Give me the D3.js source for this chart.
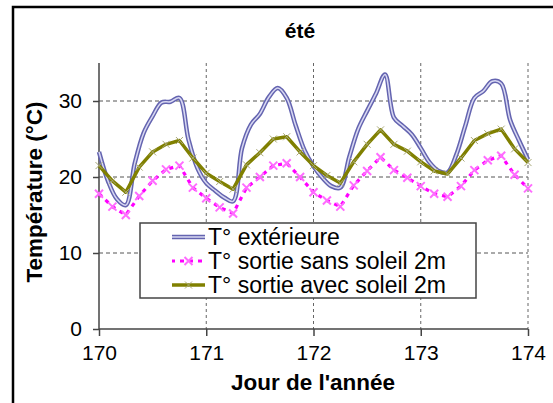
<!DOCTYPE html>
<html>
<head>
<meta charset="utf-8">
<script src="https://cdn.jsdelivr.net/npm/d3@7"></script>
<style>
  html, body { margin: 0; padding: 0; background: #fff; }
  svg { display: block; font-family: "Liberation Sans", Arial, sans-serif; }
</style>
</head>
<body>
<svg id="chart" width="553" height="403"></svg>
<script>
// Outdoor temperature, sampled every 2 hours (day 170 to 174)
const exterieurStep = 1 / 12;
const exterieur = [
  23.3, 19.5, 17.1, 16.3, 21.8, 25.8, 28.0, 29.8, 29.9, 30.4, 25.0, 21.2,
  19.2, 18.2, 17.3, 16.8, 23.8, 26.9, 28.3, 30.5, 31.7, 30.4, 26.8, 23.5,
  21.4, 19.9, 18.8, 18.6, 22.6, 26.3, 28.7, 31.0, 33.5, 27.8, 26.7, 25.6,
  23.8, 21.9, 20.8, 20.6, 23.0, 26.8, 30.4, 31.3, 32.6, 32.3, 27.5, 24.8,
  22.3
];

// Outlet temperatures at 2 m, sampled every 3 hours
const sortieStep = 1 / 8;
const sansSoleil = [
  17.8, 16.1, 15.0, 17.5, 19.5, 21.0, 21.5, 18.6, 17.2, 16.0, 15.2,
  18.6, 20.0, 21.5, 21.8, 20.0, 18.0, 16.9, 16.1, 18.9, 20.8, 22.6,
  20.9, 19.9, 18.8, 17.8, 17.4, 18.8, 20.9, 22.2, 22.8, 20.3, 18.5
];
const avecSoleil = [
  21.5, 19.5, 18.0, 21.3, 23.3, 24.3, 24.8, 22.5, 20.5, 19.4, 18.4,
  21.6, 23.2, 25.0, 25.3, 23.3, 21.5, 20.2, 19.2, 22.0, 24.3, 26.2,
  24.3, 23.4, 22.0, 20.8, 20.4, 22.5, 24.8, 25.7, 26.3, 23.7, 21.9
];

const dayStart = 170;
const xTicks = [170, 171, 172, 173, 174];
const yTicks = [0, 10, 20, 30];
const seriesNames = ["T° extérieure", "T° sortie sans soleil 2m", "T° sortie avec soleil 2m"];
const title = "été";
const xTitle = "Jour de l'année";
const yTitle = "Température (°C)";

const svg = d3.select("#chart");
const margin = { left: 99, right: 25, top: 63, bottom: 74 };
const W = 553, H = 403;

const x = d3.scaleLinear().domain([170, 174]).range([margin.left, W - margin.right]);
const y = d3.scaleLinear().domain([0, 35]).range([H - margin.bottom, margin.top]);

const toPoints = (arr, step) => arr.map((v, i) => ({ t: dayStart + i * step, v }));
const extPts = toPoints(exterieur, exterieurStep);
const sansPts = toPoints(sansSoleil, sortieStep);
const avecPts = toPoints(avecSoleil, sortieStep);

// outer frame
svg.append("rect")
  .attr("x", 13).attr("y", 7).attr("width", 700).attr("height", 500)
  .attr("fill", "none").attr("stroke", "#000").attr("stroke-width", 2.5);

// grid
const grid = svg.append("g");
grid.selectAll("line.h").data(yTicks.filter(d => d > 0)).join("line")
  .attr("x1", x(170)).attr("x2", x(174))
  .attr("y1", d => y(d)).attr("y2", d => y(d))
  .attr("stroke", "#555").attr("stroke-width", 1)
  .attr("stroke-dasharray", "4,3");
grid.selectAll("line.v").data(xTicks.filter(d => d > 170)).join("line")
  .attr("x1", d => x(d)).attr("x2", d => x(d))
  .attr("y1", y(35)).attr("y2", y(0))
  .attr("stroke", "#666").attr("stroke-width", 1)
  .attr("stroke-dasharray", "3,3");

// axes
const xAxis = d3.axisBottom(x).tickValues(xTicks).tickSize(7).tickPadding(9).tickFormat(d3.format("d"));
const yAxis = d3.axisLeft(y).tickValues(yTicks).tickSize(6).tickPadding(11);

const gx = svg.append("g").attr("transform", `translate(0,${y(0)})`).call(xAxis);
const gy = svg.append("g").attr("transform", `translate(${x(170)},0)`).call(yAxis);
[gx, gy].forEach(g => {
  g.select(".domain").attr("stroke", "#444").attr("stroke-width", 1.5);
  g.selectAll(".tick line").attr("stroke", "#444").attr("stroke-width", 1.5);
  g.selectAll(".tick text").attr("fill", "#000").style("font-size", "21px")
    .style("font-family", "'Liberation Sans', Arial, sans-serif");
});
gx.select(".domain").attr("d", `M${x(170)},0H${x(174)}`);
gy.select(".domain").attr("d", `M0,${y(35)}V${y(0)}`);

// series
const plot = svg.append("g");
const line = d3.line().x(d => x(d.t)).y(d => y(d.v));
const smooth = d3.line().x(d => x(d.t)).y(d => y(d.v)).curve(d3.curveCatmullRom.alpha(0.5));

const xMarker = (sel, size, color, width) => {
  const s = size / 2;
  sel.append("path")
    .attr("d", `M${-s},${-s}L${s},${s}M${-s},${s}L${s},${-s}`)
    .attr("stroke", color).attr("stroke-width", width).attr("fill", "none");
};

// extérieure: hollow blue line
plot.append("path").datum(extPts).attr("d", smooth)
  .attr("fill", "none").attr("stroke", "#6464b0").attr("stroke-width", 4.5)
  .attr("stroke-linejoin", "round");
plot.append("path").datum(extPts).attr("d", smooth)
  .attr("fill", "none").attr("stroke", "#d8d8f2").attr("stroke-width", 1.5)
  .attr("stroke-linejoin", "round");

// sans soleil: magenta dashed with crosses
plot.append("path").datum(sansPts).attr("d", line)
  .attr("fill", "none").attr("stroke", "#ff00ff").attr("stroke-width", 3.2)
  .attr("stroke-dasharray", "4,5");
plot.selectAll("g.ms").data(sansPts).join("g")
  .attr("transform", d => `translate(${x(d.t)},${y(d.v)})`)
  .each(function () { xMarker(d3.select(this), 8, "#ff6cff", 2); });

// avec soleil: olive solid with small crosses
plot.append("path").datum(avecPts).attr("d", line)
  .attr("fill", "none").attr("stroke", "#808000").attr("stroke-width", 3.5)
  .attr("stroke-linejoin", "round");
plot.selectAll("g.as").data(avecPts).join("g")
  .attr("transform", d => `translate(${x(d.t)},${y(d.v)})`)
  .each(function () { xMarker(d3.select(this), 7, "#a8a878", 1); });

// legend
const lg = svg.append("g");
lg.append("rect").attr("x", 140).attr("y", 223).attr("width", 336).attr("height", 75)
  .attr("fill", "#fff").attr("stroke", "#444").attr("stroke-width", 1.5);
const rows = [237, 261, 285];
rows.forEach((ry, i) => {
  if (i === 0) {
    lg.append("line").attr("x1", 172).attr("x2", 205).attr("y1", ry).attr("y2", ry)
      .attr("stroke", "#6464b0").attr("stroke-width", 4.5);
    lg.append("line").attr("x1", 172).attr("x2", 205).attr("y1", ry).attr("y2", ry)
      .attr("stroke", "#d8d8f2").attr("stroke-width", 1.5);
  } else if (i === 1) {
    lg.append("line").attr("x1", 172).attr("x2", 205).attr("y1", ry).attr("y2", ry)
      .attr("stroke", "#ff00ff").attr("stroke-width", 3.2).attr("stroke-dasharray", "4,5")
      .attr("stroke-dashoffset", 1);
    const g = lg.append("g").attr("transform", `translate(188.5,${ry})`);
    xMarker(g, 8, "#ff6cff", 2);
  } else {
    lg.append("line").attr("x1", 172).attr("x2", 205).attr("y1", ry).attr("y2", ry)
      .attr("stroke", "#808000").attr("stroke-width", 3.5);
    const g = lg.append("g").attr("transform", `translate(188.5,${ry})`);
    xMarker(g, 7, "#a8a878", 1);
  }
  lg.append("text").attr("x", 208).attr("y", ry).attr("dy", "0.35em")
    .style("font-size", "23px").text(seriesNames[i]);
});

// titles
svg.append("text").attr("x", 300).attr("y", 38).attr("text-anchor", "middle")
  .style("font-size", "21px").style("font-weight", "bold").text(title);
svg.append("text").attr("x", 313).attr("y", 390).attr("text-anchor", "middle")
  .style("font-size", "22.5px").style("font-weight", "bold").text(xTitle);
svg.append("text").attr("transform", "translate(42,192) rotate(-90)").attr("text-anchor", "middle")
  .style("font-size", "22.5px").style("font-weight", "bold").text(yTitle);
</script>
</body>
</html>
